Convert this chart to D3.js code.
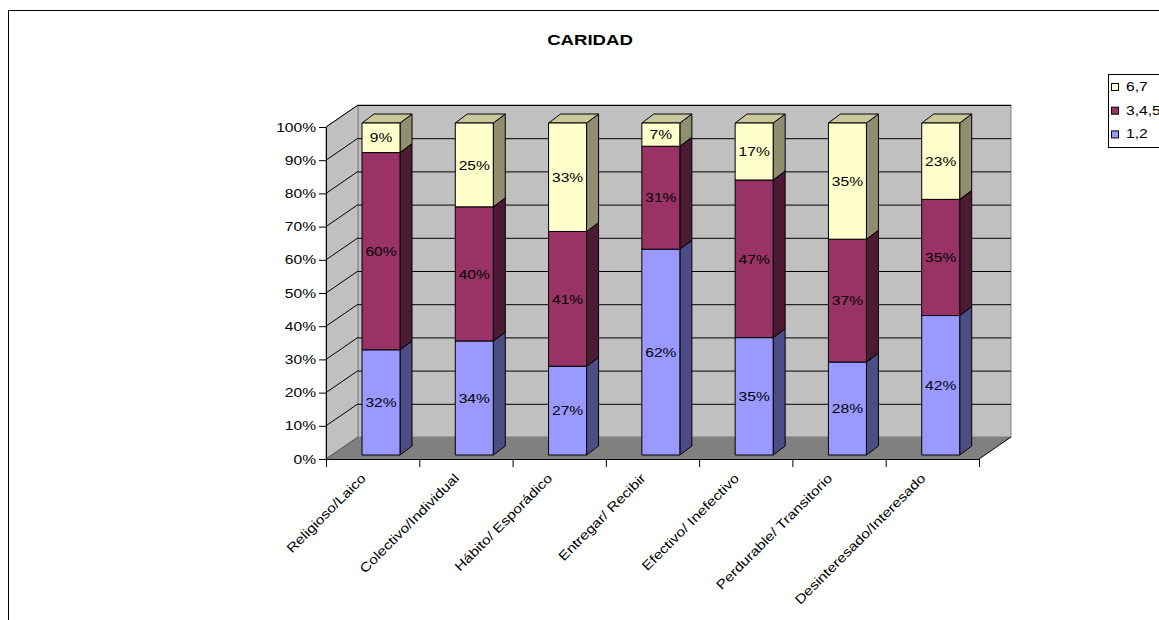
<!DOCTYPE html>
<html>
<head>
<meta charset="utf-8">
<script src="https://cdn.jsdelivr.net/npm/d3@7"></script>
<style>
  body { margin: 0; background: #fff; }
  text { font-family: Arial, "Liberation Sans", sans-serif; }
</style>
</head>
<body>
<svg id="chart" width="1159" height="620"></svg>
<script>
const categories = ["Religioso/Laico", "Colectivo/Individual", "Hábito/ Esporádico", "Entregar/ Recibir",
                    "Efectivo/ Inefectivo", "Perdurable/ Transitorio", "Desinteresado/Interesado"];
const seriesNames = ["1,2", "3,4,5", "6,7"];
const low = [32, 34, 27, 62, 35, 28, 42];
const mid = [60, 40, 41, 31, 47, 37, 35];
const high = [9, 25, 33, 7, 17, 35, 23];
const yTicks = [0, 0.1, 0.2, 0.3, 0.4, 0.5, 0.6, 0.7, 0.8, 0.9, 1];

const colors = {
  "1,2":   { front: "#9999ff", side: "#4d4d86", top: "#7777cc" },
  "3,4,5": { front: "#993366", side: "#4d1a33", top: "#73264d" },
  "6,7":   { front: "#ffffcc", side: "#8f8f70", top: "#c8c89c" }
};

const svg = d3.select("#chart");
const pLeft = 326, pRight = 979, pBottom = 459, pTop = 127;
const wallDx = 32, wallDy = -22;   // depth of the 3d box
const barOff = [5, -4];            // bar front plane shift
const barDx = 12, barDy = -9;      // bar depth
const xStretch = 1.2;              // text in the picture is drawn wide

const x = d3.scaleBand(categories, [pLeft, pRight]);
const xi = d3.scaleLinear([0, categories.length], [pLeft, pRight]);
const y = d3.scaleLinear([0, 1], [pBottom, pTop]);

// outer frame
svg.append("rect").attr("x", 8.5).attr("y", 10.5).attr("width", 1300).attr("height", 800)
  .attr("fill", "none").attr("stroke", "#000");

svg.append("text").attr("transform", `translate(590,45) scale(${xStretch},1)`)
  .attr("text-anchor", "middle").attr("font-weight", "bold").attr("font-size", 15.5)
  .text("CARIDAD");

const poly = pts => "M" + pts.map(p => p.join(",")).join("L") + "Z";

// walls
svg.append("path")
  .attr("d", poly([[pLeft + wallDx, y(0) + wallDy], [pLeft + wallDx, y(1) + wallDy],
                   [pRight + wallDx, y(1) + wallDy], [pRight + wallDx, y(0) + wallDy]]))
  .attr("fill", "#c0c0c0").attr("stroke", "#808080");
svg.append("path")
  .attr("d", poly([[pLeft, y(0)], [pLeft, y(1)], [pLeft + wallDx, y(1) + wallDy], [pLeft + wallDx, y(0) + wallDy]]))
  .attr("fill", "#c0c0c0").attr("stroke", "#808080");
svg.append("path")
  .attr("d", poly([[pLeft, y(0)], [pRight, y(0)], [pRight + wallDx, y(0) + wallDy], [pLeft + wallDx, y(0) + wallDy]]))
  .attr("fill", "#808080").attr("stroke", "none");

// grid lines
const grid = svg.append("g").attr("stroke", "#000").attr("stroke-width", 1);
yTicks.slice(1).forEach(t => {
  grid.append("line").attr("x1", pLeft + wallDx).attr("x2", pRight + wallDx)
    .attr("y1", y(t) + wallDy + 0.5).attr("y2", y(t) + wallDy + 0.5);
  grid.append("line").attr("x1", pLeft).attr("x2", pLeft + wallDx)
    .attr("y1", y(t)).attr("y2", y(t) + wallDy);
});
grid.append("line").attr("x1", pLeft).attr("x2", pLeft + wallDx)
  .attr("y1", y(0)).attr("y2", y(0) + wallDy).attr("stroke", "#555");
grid.append("line").attr("x1", pRight).attr("x2", pRight + wallDx)
  .attr("y1", y(0)).attr("y2", y(0) + wallDy);

// bars
const rows = categories.map((c, i) => {
  const vals = [low[i], mid[i], high[i]];
  const total = d3.sum(vals);
  let acc = 0;
  return vals.map((v, k) => {
    const seg = { cat: c, name: seriesNames[k], v, y0: acc / total, y1: (acc + v) / total };
    acc += v;
    return seg;
  });
});

const bw = 38;
rows.forEach(segs => {
  segs.forEach(s => {
    const x0 = x(s.cat) + 31 + barOff[0], x1 = x0 + bw;
    const yb = y(s.y0) + barOff[1], yt = y(s.y1) + barOff[1];
    const c = colors[s.name];
    const g = svg.append("g").attr("stroke", "#000").attr("stroke-width", 1).attr("stroke-linejoin", "round");
    g.append("path").attr("d", poly([[x1, yb], [x1 + barDx, yb + barDy], [x1 + barDx, yt + barDy], [x1, yt]]))
      .attr("fill", c.side);
    g.append("path").attr("d", poly([[x0, yt], [x1, yt], [x1 + barDx, yt + barDy], [x0 + barDx, yt + barDy]]))
      .attr("fill", c.top);
    g.append("rect").attr("x", x0).attr("y", yt).attr("width", bw).attr("height", yb - yt)
      .attr("fill", c.front);
    svg.append("text")
      .attr("transform", `translate(${(x0 + x1) / 2},${(yt + yb) / 2}) scale(${xStretch},1)`)
      .attr("text-anchor", "middle").attr("dy", "0.36em").attr("font-size", 13)
      .text(s.v + "%");
  });
});

// axes
const yAxis = svg.append("g").attr("transform", `translate(${pLeft},0)`)
  .call(d3.axisLeft(y).tickValues(yTicks).tickFormat(d3.format(".0%")).tickSize(7).tickSizeOuter(0));
yAxis.selectAll("text").attr("font-size", 13).attr("fill", "#000")
  .attr("transform", `scale(${xStretch},1)`).attr("x", -10 / xStretch);
yAxis.selectAll("line, path").attr("stroke", "#000");

const xAxis = svg.append("g").attr("transform", `translate(0,${pBottom})`)
  .call(d3.axisBottom(xi).ticks(categories.length).tickFormat("").tickSize(8).tickSizeOuter(0));
xAxis.selectAll("line, path").attr("stroke", "#000");

svg.append("g").selectAll("text").data(categories).join("text")
  .attr("transform", d => `translate(${x(d) + x.bandwidth() / 2 - 6},${pBottom + 20}) rotate(-45) scale(${xStretch},1)`)
  .attr("text-anchor", "end").attr("font-size", 13)
  .text(d => d);

// legend
const lg = svg.append("g").attr("transform", "translate(1108,74)");
lg.append("rect").attr("x", 0.5).attr("y", 0.5).attr("width", 100).attr("height", 73)
  .attr("fill", "#fff").attr("stroke", "#000");
seriesNames.slice().reverse().forEach((n, i) => {
  lg.append("rect").attr("x", 3.5).attr("y", 9.5 + i * 23.7).attr("width", 7).attr("height", 7)
    .attr("fill", colors[n].front).attr("stroke", "#000");
  lg.append("text").attr("transform", `translate(18,${17 + i * 23.7}) scale(${xStretch},1)`)
    .attr("font-size", 13).text(n);
});
</script>
</body>
</html>
